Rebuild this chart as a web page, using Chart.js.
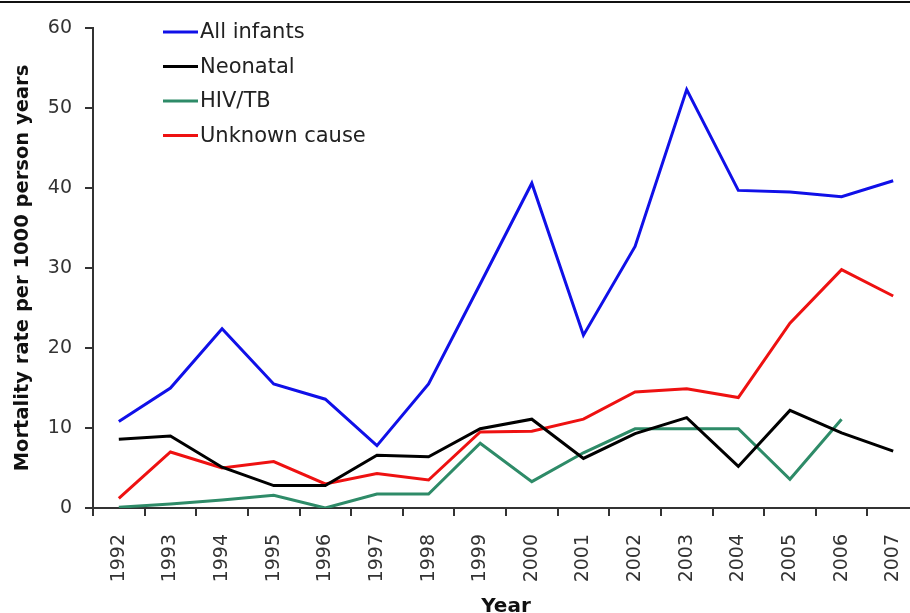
<!DOCTYPE html>
<html>
<head>
<meta charset="utf-8">
<script src="https://cdn.jsdelivr.net/npm/chart.js@4.4.1/dist/chart.umd.min.js"></script>
<style>
    html, body { margin: 0; padding: 0; background: #fff; overflow: hidden; }
    #topLine { position: absolute; left: 0; top: 1px; width: 910px; border-top: 2px solid #111; }
    #chartBox { position: absolute; left: 0; top: 0; width: 925px; height: 625px; }
</style>
</head>
<body>
<div id="chartBox"><canvas id="lineChart"></canvas></div>
<div id="topLine"></div>
<script>
// Chart data
var years = ['1992', '1993', '1994', '1995', '1996', '1997', '1998', '1999',
             '2000', '2001', '2002', '2003', '2004', '2005', '2006', '2007'];
var allInfants = [10.8, 15.0, 22.4, 15.5, 13.6, 7.8, 15.5, 28.0, 40.6, 21.6, 32.7, 52.3, 39.7, 39.5, 38.9, 40.9];
var neonatal = [8.6, 9.0, 5.1, 2.8, 2.8, 6.6, 6.4, 9.9, 11.1, 6.2, 9.3, 11.3, 5.2, 12.2, 9.4, 7.1];
var hivTb = [0.1, 0.5, 1.0, 1.6, 0.0, 1.75, 1.75, 8.1, 3.3, 6.9, 9.9, 9.9, 9.9, 3.6, 11.1, null];
var unknownCause = [1.2, 7.0, 5.0, 5.8, 3.0, 4.3, 3.5, 9.5, 9.6, 11.1, 14.5, 14.9, 13.8, 23.1, 29.8, 26.5];
var yTicks = [0, 10, 20, 30, 40, 50, 60];

var fontFamily = '"DejaVu Sans", Verdana, sans-serif';

// Legend drawn inside the plot, top left
var insideLegend = {
    id: 'insideLegend',
    afterDraw: function(chart) {
        var ctx = chart.ctx;
        ctx.save();
        ctx.font = '21px ' + fontFamily;
        ctx.textBaseline = 'middle';
        ctx.textAlign = 'left';
        chart.data.datasets.forEach(function(ds, i) {
            var y = 32 + i * 34.5;
            ctx.strokeStyle = ds.borderColor;
            ctx.lineWidth = 3;
            ctx.beginPath();
            ctx.moveTo(163, y);
            ctx.lineTo(198, y);
            ctx.stroke();
            ctx.fillStyle = '#222';
            ctx.fillText(ds.label, 200, y + 1);
        });
        ctx.restore();
    }
};

// Create Line Chart
var ctx = document.getElementById('lineChart').getContext('2d');
new Chart(ctx, {
    type: 'line',
    data: {
        labels: years,
        datasets: [
            { label: 'All infants', data: allInfants, borderColor: '#1010e8' },
            { label: 'Neonatal', data: neonatal, borderColor: '#000000' },
            { label: 'HIV/TB', data: hivTb, borderColor: '#2e8b68' },
            { label: 'Unknown cause', data: unknownCause, borderColor: '#ee1111' }
        ]
    },
    options: {
        responsive: true,
        maintainAspectRatio: false,
        animation: false,
        layout: { padding: { top: 28, right: 6, left: 0, bottom: 0 } },
        elements: {
            line: { borderWidth: 3, tension: 0, fill: false },
            point: { radius: 0, hoverRadius: 0 }
        },
        spanGaps: false,
        plugins: {
            legend: { display: false },
            tooltip: { enabled: false }
        },
        scales: {
            x: {
                offset: true,
                grid: { offset: true, drawOnChartArea: false, drawTicks: true, tickLength: 8, color: '#333', lineWidth: 2 },
                border: { color: '#333', width: 2 },
                ticks: {
                    minRotation: 90, maxRotation: 90, autoSkip: false, padding: 18,
                    color: '#333', font: { family: fontFamily, size: 19 }
                },
                title: {
                    display: true, text: 'Year', color: '#111',
                    font: { family: fontFamily, size: 20, weight: 'bold' },
                    padding: { top: 0, bottom: 6 }
                },
                afterFit: function(scale) {
                    scale.height = 117;
                    scale.paddingLeft = 0;
                    scale.paddingRight = 0;
                }
            },
            y: {
                min: 0, max: 60,
                grid: { drawOnChartArea: false, drawTicks: true, tickLength: 8, color: '#333', lineWidth: 2 },
                border: { color: '#333', width: 2 },
                afterBuildTicks: function(scale) {
                    scale.ticks = yTicks.map(function(v) { return { value: v }; });
                },
                ticks: { padding: 13, color: '#333', font: { family: fontFamily, size: 19 } },
                title: {
                    display: true, text: 'Mortality rate per 1000 person years', color: '#111',
                    font: { family: fontFamily, size: 19.5, weight: 'bold' },
                    padding: { top: 11, bottom: 0 }
                },
                afterFit: function(scale) { scale.width = 93; }
            }
        }
    },
    plugins: [insideLegend]
});
</script>
</body>
</html>
